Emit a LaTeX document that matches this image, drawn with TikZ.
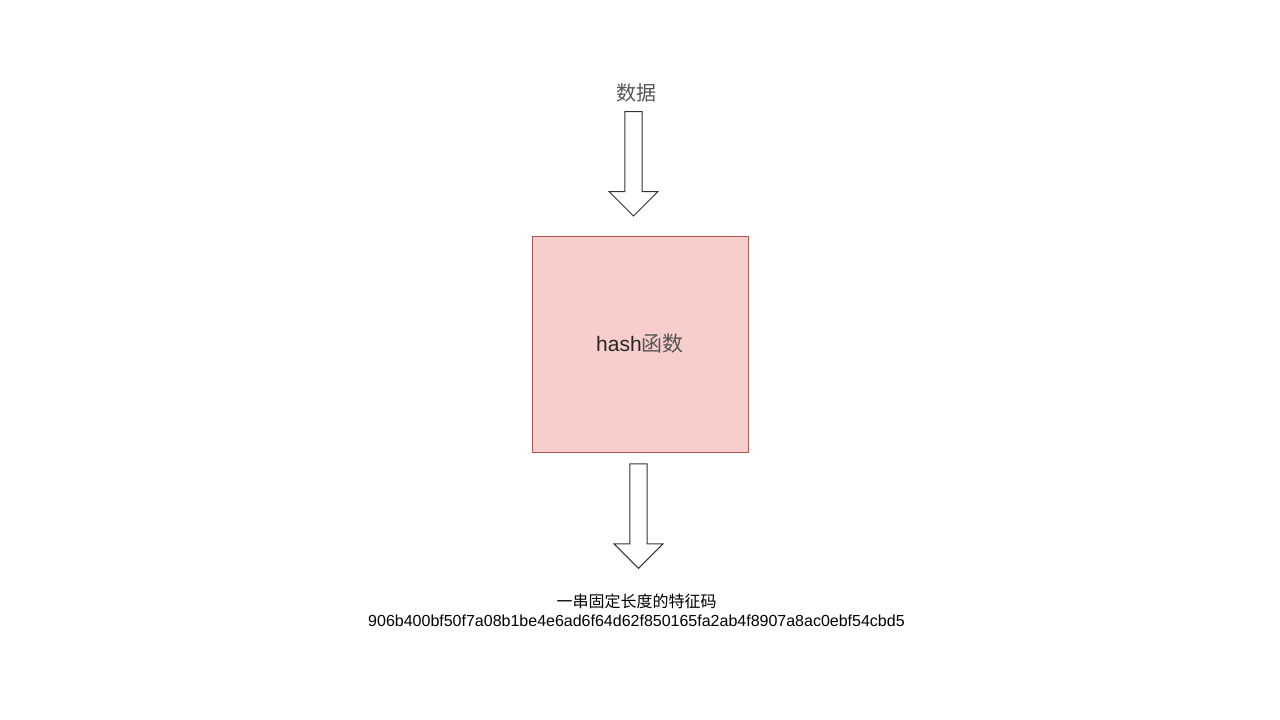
\documentclass[tikz,border=0pt]{standalone}
\usepackage{fontspec}
\setmainfont{Liberation Sans}
\newfontfamily\cjk{Noto Sans CJK SC}
\usepackage{tikz}
\usetikzlibrary{shapes.arrows,positioning}
\definecolor{hashfill}{RGB}{248,206,204}
\definecolor{hashline}{RGB}{184,84,80}
\definecolor{labelgray}{RGB}{85,85,85}
\definecolor{edgegray}{RGB}{51,51,51}

\begin{document}
\begin{tikzpicture}[x=1pt,y=-1pt,
  blockarrow/.style={draw=edgegray,line width=1pt,fill=white,single arrow,single arrow tip angle=90,
    minimum height=104.5pt,minimum width=49pt,inner xsep=0pt,inner ysep=3.3pt,rotate=-90},
  hashbox/.style={draw=hashline,line width=1pt,fill=hashfill,minimum width=216pt,minimum height=216pt,inner sep=0pt}]
  \useasboundingbox (0,0) rectangle (1280,720);
  \node[text=labelgray,font=\fontsize{20}{24}\selectfont\cjk] (data) at (636,93) {数据};
  \node[blockarrow] (inarrow) at (633.5,159.5) {};
  \node[hashbox,font=\fontsize{21}{25}\selectfont] (hashfn) at (640,344) {\textcolor{black!85}{hash}\textcolor{labelgray}{\cjk 函数}};
  \node[blockarrow] (outarrow) at (638.5,511.9) {};
  \node[align=center,font=\fontsize{16}{19}\selectfont] (code) at (636.5,610) {{\cjk 一串固定长度的特征码}\\906b400bf50f7a08b1be4e6ad6f64d62f850165fa2ab4f8907a8ac0ebf54cbd5};
\end{tikzpicture}
\end{document}
